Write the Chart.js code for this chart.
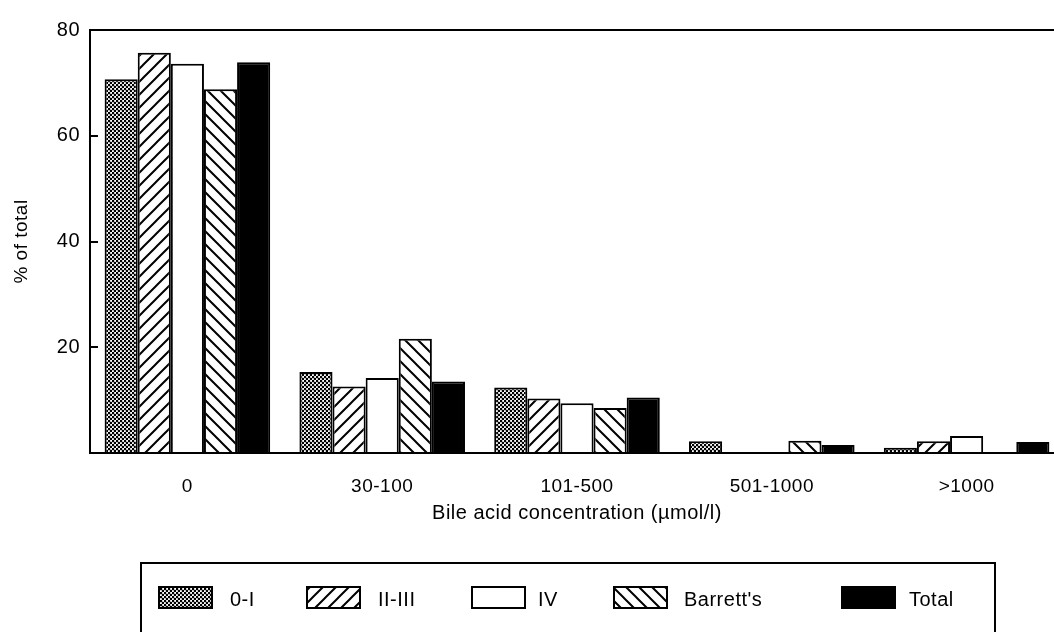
<!DOCTYPE html>
<html lang="en">
<head>
<meta charset="utf-8">
<title>Bile acid concentration</title>
<script src="https://cdn.jsdelivr.net/npm/chart.js@4.4.0/dist/chart.umd.min.js"></script>
<style>
  body { margin: 0; background: #fff; overflow: hidden; }
</style>
</head>
<body>
<canvas id="myChart" width="1064" height="632"></canvas>
<script>
let labels = ['0', '30-100', '101-500', '501-1000', '>1000'];
let grade01 = [70.7, 15.3, 12.4, 2.2, 1.0];
let grade23 = [75.7, 12.6, 10.3, 0, 2.2];
let grade4 = [73.6, 14.2, 9.4, 0, 3.2];
let barretts = [68.8, 21.6, 8.5, 2.3, 0];
let total = [73.9, 13.5, 10.5, 1.5, 2.1];
let yTicks = [0, 20, 40, 60, 80];

let canvas = document.getElementById('myChart');
let ctx = canvas.getContext('2d');

// fill patterns like the printed figure
function stipple() {
  let c = document.createElement('canvas');
  c.width = 4; c.height = 4;
  let g = c.getContext('2d');
  g.fillStyle = '#fff'; g.fillRect(0, 0, 4, 4);
  g.fillStyle = '#000';
  g.beginPath(); g.arc(1, 1, 1.3, 0, Math.PI * 2); g.fill();
  g.beginPath(); g.arc(3, 3, 1.3, 0, Math.PI * 2); g.fill();
  return ctx.createPattern(c, 'repeat');
}

function hatch(dir, gap) {
  let c = document.createElement('canvas');
  c.width = gap; c.height = gap;
  let g = c.getContext('2d');
  g.fillStyle = '#fff'; g.fillRect(0, 0, gap, gap);
  g.strokeStyle = '#000'; g.lineWidth = 2;
  g.beginPath();
  if (dir > 0) {
    g.moveTo(-2, gap + 2); g.lineTo(gap + 2, -2);
    g.moveTo(-2, 2); g.lineTo(2, -2);
    g.moveTo(gap - 2, gap + 2); g.lineTo(gap + 2, gap - 2);
  } else {
    g.moveTo(-2, -2); g.lineTo(gap + 2, gap + 2);
    g.moveTo(gap - 2, -2); g.lineTo(gap + 2, 2);
    g.moveTo(-2, gap - 2); g.lineTo(2, gap + 2);
  }
  g.stroke();
  return ctx.createPattern(c, 'repeat');
}

let fills = [stipple(), hatch(1, 13), '#fff', hatch(-1, 13), '#000'];
let names = ['0-I', 'II-III', 'IV', "Barrett's", 'Total'];

// legend box layout (x of swatch, x of text)
let legendSwatchX = [159, 307, 472, 614, 842];
let legendTextX = [230, 378, 538, 684, 909];

// the scanned lettering is set a little wide
const spacing = {
  id: 'spacing',
  beforeUpdate(chart) { chart.ctx.letterSpacing = '0.5px'; },
  beforeDraw(chart) { chart.ctx.letterSpacing = '0.5px'; }
};

const frame = {
  id: 'frame',
  afterDraw(chart) {
    let c = chart.ctx;
    let a = chart.chartArea;
    c.save();
    c.strokeStyle = '#000';
    c.lineWidth = 2;
    c.beginPath();
    c.moveTo(a.left, a.top);
    c.lineTo(a.right, a.top);
    c.stroke();

    // legend
    c.strokeRect(141, 563, 854, 90);
    c.font = "20px 'Liberation Sans', Arial, sans-serif";
    c.textBaseline = 'middle';
    for (let i = 0; i < names.length; i++) {
      c.fillStyle = fills[i];
      c.fillRect(legendSwatchX[i], 587, 53, 21);
      c.strokeRect(legendSwatchX[i], 587, 53, 21);
      c.fillStyle = '#000';
      c.fillText(names[i], legendTextX[i], 600);
    }
    c.restore();
  }
};

Chart.defaults.font.family = "'Liberation Sans', Arial, sans-serif";
Chart.defaults.color = '#000';

let sets = [grade01, grade23, grade4, barretts, total].map(function (d, i) {
  return {
    label: names[i],
    data: d,
    backgroundColor: fills[i],
    borderColor: '#000',
    borderWidth: 2
  };
});

new Chart(ctx, {
  type: 'bar',
  data: { labels: labels, datasets: sets },
  options: {
    responsive: false,
    animation: false,
    devicePixelRatio: 1,
    layout: { padding: { top: 24, right: 0, bottom: 99, left: 0 } },
    datasets: { bar: { categoryPercentage: 0.85, barPercentage: 1 } },
    plugins: {
      legend: { display: false },
      tooltip: { enabled: false }
    },
    scales: {
      x: {
        afterFit: function (s) { s.height = 80; },
        grid: { display: false },
        border: { display: true, color: '#000', width: 2 },
        ticks: { font: { size: 19 }, padding: 14, color: '#000' },
        title: {
          display: true,
          text: 'Bile acid concentration (µmol/l)',
          font: { size: 20 },
          color: '#000',
          padding: { top: 0, bottom: 8 }
        }
      },
      y: {
        min: 0,
        max: 80,
        afterFit: function (s) { s.width = 90; },
        afterBuildTicks: function (s) { s.ticks = yTicks.map(function (v) { return { value: v }; }); },
        grid: { drawOnChartArea: false, drawTicks: true, tickLength: -8, color: '#000', lineWidth: 2 },
        border: { display: true, color: '#000', width: 2 },
        ticks: {
          font: { size: 20 },
          padding: 18,
          color: '#000',
          callback: function (v) { return v === 0 ? '' : v; }
        },
        title: {
          display: true,
          text: '% of total',
          font: { size: 19 },
          color: '#000',
          padding: { top: 10, bottom: 0 }
        }
      }
    }
  },
  plugins: [spacing, frame]
});
</script>
</body>
</html>
